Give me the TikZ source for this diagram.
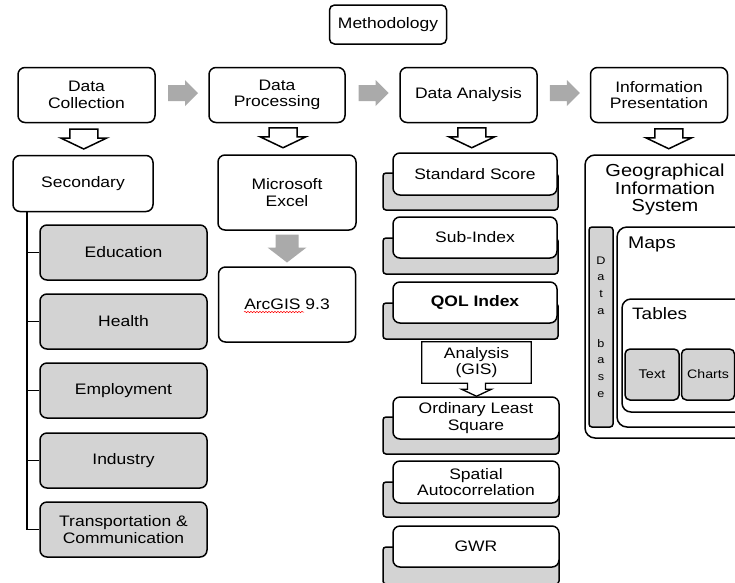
\documentclass[tikz,border=0pt]{standalone}
\usepackage{fontspec}
\setmainfont[FakeStretch=1.15]{Liberation Sans}
\usetikzlibrary{calc,decorations.pathmorphing}
\definecolor{boxgray}{RGB}{211,211,211}
\definecolor{arrgray}{RGB}{170,170,170}
\begin{document}
\begin{tikzpicture}[x=1pt,y=-1pt,
  box/.style={draw, line width=1.5pt, rounded corners=7pt, fill=white, align=center,
    inner sep=0pt, font=\fontsize{15.2}{16.5}\selectfont},
  graybox/.style={box, fill=boxgray},
  backbox/.style={draw, line width=1.5pt, rounded corners=3pt, fill=boxgray},
  trunk/.style={draw, line width=1.5pt},
  plain/.style={inner sep=0pt, align=center},
  hollowdown/.pic={\draw[line width=1.5pt, fill=white, line join=miter]
     (-14,-10) -- (14,-10) -- (14,-1) -- (23,-1) -- (0,10) -- (-23,-1) -- (-14,-1) -- cycle;},
  grayright/.pic={\fill[arrgray] (-15,-8) -- (2,-8) -- (2,-13) -- (15,0) -- (2,13) -- (2,8) -- (-15,8) -- cycle;},
  graydown/.pic={\fill[arrgray] (-11.5,-14) -- (11.5,-14) -- (11.5,-1) -- (19.5,-1) -- (0,14) -- (-19.5,-1) -- (-11.5,-1) -- cycle;}
]
\clip (0,0) rectangle (735,582);
\fill[white] (0,0) rectangle (735,582);

% title
\node[box, rounded corners=5pt, minimum width=117, minimum height=39] (meth) at (388,24.5) {Methodology};

% top row
\node[box, minimum width=137, minimum height=55] (dc) at (86.5,95) {Data\\Collection};
\node[box, minimum width=136, minimum height=55] (dp) at (277,95) {Data\\Processing};
\node[box, minimum width=137, minimum height=55] (da) at (468.5,95) {Data Analysis};
\node[box, minimum width=137, minimum height=55] (ip) at (659,95) {Information\\Presentation};

\pic at ($(dc.east)!0.5!(dp.west)+(1,-2)$) {grayright};
\pic at ($(dp.east)!0.5!(da.west)+(1,-2)$) {grayright};
\pic at ($(da.east)!0.5!(ip.west)+(1,-2)$) {grayright};

% data collection column
\node[box, minimum width=140, minimum height=56] (sec) at (83,183.5) {Secondary};
\pic at ($(dc.south)!0.5!(sec.north)+(-1,0)$) {hollowdown};
\coordinate (tr) at (27,211);
\node[graybox, minimum width=167, minimum height=55] (edu) at (123.5,252.5) {Education};
\node[graybox, minimum width=167, minimum height=55] (hea) at (123.5,321.5) {Health};
\node[graybox, minimum width=167, minimum height=55] (emp) at (123.5,390.5) {Employment};
\node[graybox, minimum width=167, minimum height=55] (ind) at (123.5,460.5) {Industry};
\node[graybox, minimum width=167, minimum height=55] (tc) at (123.5,529.5) {Transportation \&\\Communication};
\draw[trunk] (tr) |- (tc.west);
\draw[trunk] (tr |- edu.west) -- (edu.west);
\draw[trunk] (tr |- hea.west) -- (hea.west);
\draw[trunk] (tr |- emp.west) -- (emp.west);
\draw[trunk] (tr |- ind.west) -- (ind.west);

% data processing column
\node[box, minimum width=138, minimum height=75] (xl) at (287,192.5) {Microsoft\\Excel};
\pic at ($(dp.south)!0.5!(xl.north)+(1,-1)$) {hollowdown};
\node[box, minimum width=137, minimum height=75] (arc) at (287,304.5) {ArcGIS 9.3};
\pic at ($(xl.south)!0.5!(arc.north)$) {graydown};
\draw[red, line width=0.5pt, decorate, decoration={snake, amplitude=0.7pt, segment length=3pt}]
  ($(arc.center)+(-43,7.5)$) -- ++(60,0);

% data analysis column
\draw[backbox] (383,173) rectangle (558,210);
\node[box, minimum width=164, minimum height=42] (ss) at (475,174) {Standard Score};
\draw[backbox] (383,238) rectangle (558,274);
\node[box, minimum width=164, minimum height=41] (sub) at (475,237.5) {Sub-Index};
\draw[backbox] (383,303) rectangle (558,339);
\node[box, minimum width=164, minimum height=41, font=\fontsize{15.2}{16.5}\selectfont\bfseries] (qol) at (475,302.5) {QOL Index};
\draw[backbox] (383,417) rectangle (559,454);
\node[box, minimum width=166, minimum height=42] (ols) at (476,418) {Ordinary Least\\Square};
\draw[backbox] (383,482) rectangle (559,517);
\node[box, minimum width=166, minimum height=42] (sa) at (476,482) {Spatial\\Autocorrelation};
\draw[backbox] (383,547) rectangle (559,584);
\node[box, minimum width=166, minimum height=41] (gwr) at (476,546.5) {GWR};
\pic at ($(da.south)!0.5!(ss.north)$) {hollowdown};

\node[plain, minimum width=109, minimum height=41, font=\fontsize{15.2}{16.5}\selectfont] (ag) at (476.5,362.5) {Analysis\\(GIS)};
\draw[line width=1.3pt, fill=white, line join=miter]
  (ag.north west) -- (ag.north east) -- (ag.south east) -- ($(ag.south)+(9,0)$) -- ++(0,6) -- ++(6,0)
  -- (ag.south |- ols.north) -- ($(ag.south)+(-15,6)$) -- ++(6,0) -- ($(ag.south)+(-9,0)$)
  -- (ag.south west) -- cycle;
\node[plain, font=\fontsize{15.2}{16.5}\selectfont] at (ag.center) {Analysis\\(GIS)};

% information presentation column
\node[box, rounded corners=10pt, minimum width=175, minimum height=283] (gis) at (672.5,296.5) {};
\pic at ($(ip.south)!0.5!(gis.north)+(3,0)$) {hollowdown};
\node[plain, font=\fontsize{17.4}{17.2}\selectfont] (gist) at (665,189.5) {Geographical\\Information\\System};
\node[box, fill=boxgray, rounded corners=3pt, minimum width=24, minimum height=200] (db) at (601,327) {};
\node[plain, font=\fontsize{11}{16.6}\selectfont] (dbt) at (601,327) {D\\a\\t\\a\\~\\b\\a\\s\\e};
\node[box, rounded corners=10pt, minimum width=140, minimum height=200] (maps) at (687,327) {};
\node[plain, anchor=west, font=\fontsize{16.9}{18}\selectfont] (mapst) at (628,244) {Maps};
\node[box, rounded corners=9pt, minimum width=135, minimum height=113] (tab) at (689.5,355.5) {};
\node[plain, anchor=west, font=\fontsize{16.5}{18}\selectfont] (tabt) at (632,314) {Tables};
\node[graybox, rounded corners=5pt, minimum width=54, minimum height=51, font=\fontsize{12.6}{14}\selectfont] (txt) at (652,374.5) {Text};
\node[graybox, rounded corners=5pt, minimum width=53, minimum height=51, font=\fontsize{12.3}{14}\selectfont] (cha) at (708,374.5) {Charts};
\end{tikzpicture}
\end{document}
